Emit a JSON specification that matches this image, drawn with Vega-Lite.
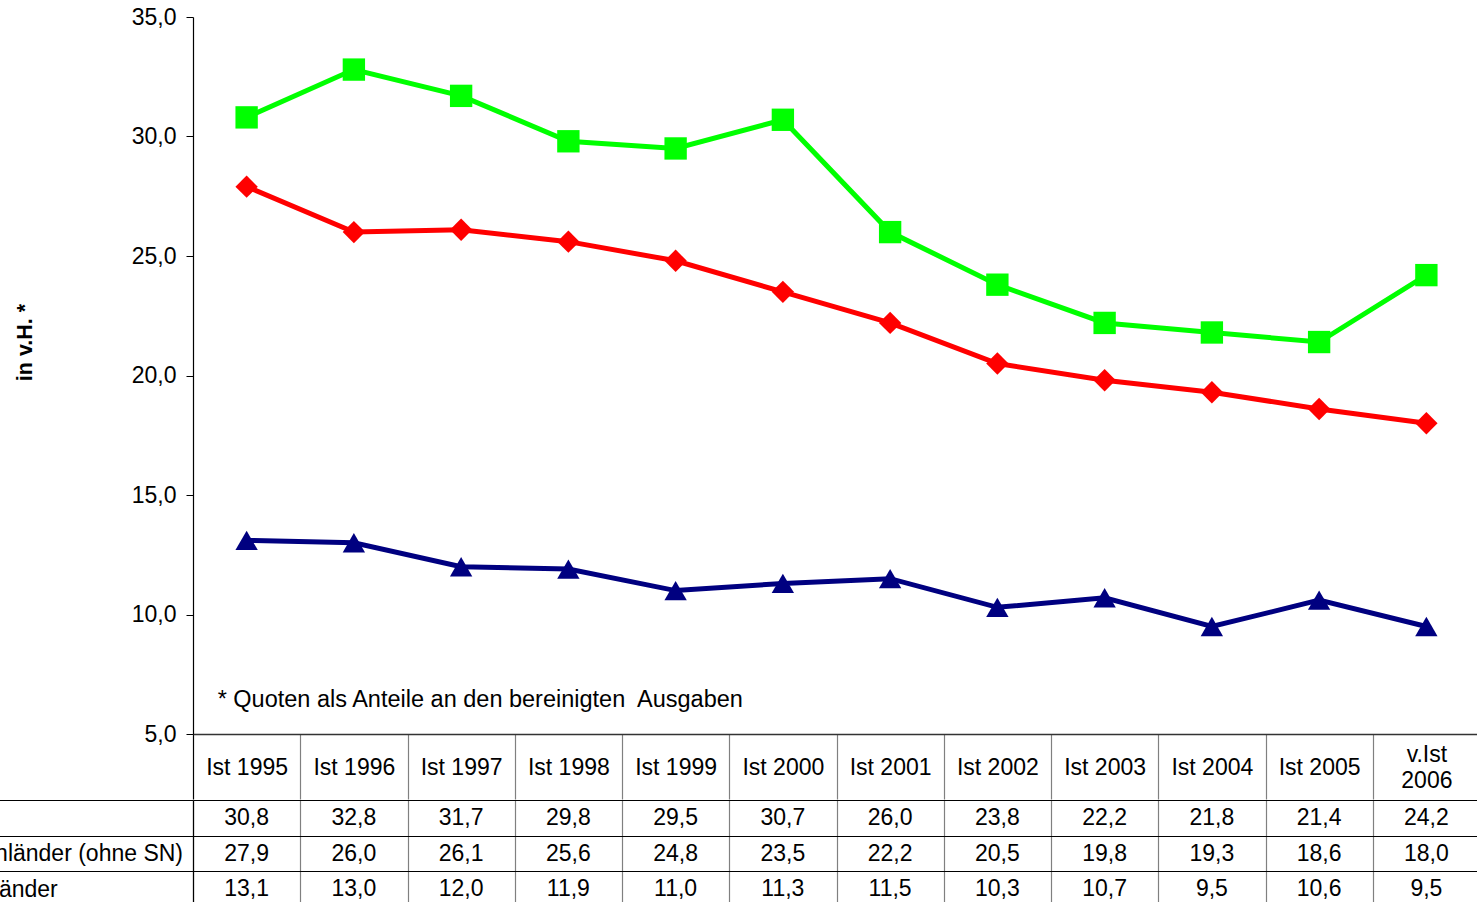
{
  "$schema": "https://vega.github.io/schema/vega-lite/v6.json",
  "background": "white",
  "padding": {"left": -132, "top": 6, "right": -4, "bottom": -4},
  "spacing": -12,
  "config": {
    "view": {"stroke": null},
    "font": "Liberation Sans",
    "locale": {"number": {"decimal": ",", "thousands": ".", "grouping": [3], "currency": ["", " €"]}}
  },
  "datasets": {
    "hinweis": [{"text": "* Quoten als Anteile an den bereinigten\u00a0 Ausgaben"}],
    "quoten": [
      {"jahr": "Ist 1995", "gebiet": "Sachsen", "quote": 30.8},
      {"jahr": "Ist 1996", "gebiet": "Sachsen", "quote": 32.8},
      {"jahr": "Ist 1997", "gebiet": "Sachsen", "quote": 31.7},
      {"jahr": "Ist 1998", "gebiet": "Sachsen", "quote": 29.8},
      {"jahr": "Ist 1999", "gebiet": "Sachsen", "quote": 29.5},
      {"jahr": "Ist 2000", "gebiet": "Sachsen", "quote": 30.7},
      {"jahr": "Ist 2001", "gebiet": "Sachsen", "quote": 26.0},
      {"jahr": "Ist 2002", "gebiet": "Sachsen", "quote": 23.8},
      {"jahr": "Ist 2003", "gebiet": "Sachsen", "quote": 22.2},
      {"jahr": "Ist 2004", "gebiet": "Sachsen", "quote": 21.8},
      {"jahr": "Ist 2005", "gebiet": "Sachsen", "quote": 21.4},
      {"jahr": "v.Ist 2006", "gebiet": "Sachsen", "quote": 24.2},
      {"jahr": "Ist 1995", "gebiet": "neue Flächenländer (ohne SN)", "quote": 27.9},
      {"jahr": "Ist 1996", "gebiet": "neue Flächenländer (ohne SN)", "quote": 26.0},
      {"jahr": "Ist 1997", "gebiet": "neue Flächenländer (ohne SN)", "quote": 26.1},
      {"jahr": "Ist 1998", "gebiet": "neue Flächenländer (ohne SN)", "quote": 25.6},
      {"jahr": "Ist 1999", "gebiet": "neue Flächenländer (ohne SN)", "quote": 24.8},
      {"jahr": "Ist 2000", "gebiet": "neue Flächenländer (ohne SN)", "quote": 23.5},
      {"jahr": "Ist 2001", "gebiet": "neue Flächenländer (ohne SN)", "quote": 22.2},
      {"jahr": "Ist 2002", "gebiet": "neue Flächenländer (ohne SN)", "quote": 20.5},
      {"jahr": "Ist 2003", "gebiet": "neue Flächenländer (ohne SN)", "quote": 19.8},
      {"jahr": "Ist 2004", "gebiet": "neue Flächenländer (ohne SN)", "quote": 19.3},
      {"jahr": "Ist 2005", "gebiet": "neue Flächenländer (ohne SN)", "quote": 18.6},
      {"jahr": "v.Ist 2006", "gebiet": "neue Flächenländer (ohne SN)", "quote": 18.0},
      {"jahr": "Ist 1995", "gebiet": "alte Flächenländer", "quote": 13.1},
      {"jahr": "Ist 1996", "gebiet": "alte Flächenländer", "quote": 13.0},
      {"jahr": "Ist 1997", "gebiet": "alte Flächenländer", "quote": 12.0},
      {"jahr": "Ist 1998", "gebiet": "alte Flächenländer", "quote": 11.9},
      {"jahr": "Ist 1999", "gebiet": "alte Flächenländer", "quote": 11.0},
      {"jahr": "Ist 2000", "gebiet": "alte Flächenländer", "quote": 11.3},
      {"jahr": "Ist 2001", "gebiet": "alte Flächenländer", "quote": 11.5},
      {"jahr": "Ist 2002", "gebiet": "alte Flächenländer", "quote": 10.3},
      {"jahr": "Ist 2003", "gebiet": "alte Flächenländer", "quote": 10.7},
      {"jahr": "Ist 2004", "gebiet": "alte Flächenländer", "quote": 9.5},
      {"jahr": "Ist 2005", "gebiet": "alte Flächenländer", "quote": 10.6},
      {"jahr": "v.Ist 2006", "gebiet": "alte Flächenländer", "quote": 9.5}
    ]
  },
  "vconcat": [
    {
      "width": 1287,
      "height": 717,
      "layer": [
        {
          "data": {"name": "quoten"},
          "mark": {"type": "line", "strokeWidth": 5},
          "encoding": {
            "x": {
              "field": "jahr",
              "type": "ordinal",
              "bandPosition": 0.5,
              "scale": {
                "type": "band",
                "paddingInner": 0,
                "paddingOuter": 0,
                "domain": ["Ist 1995", "Ist 1996", "Ist 1997", "Ist 1998", "Ist 1999", "Ist 2000", "Ist 2001", "Ist 2002", "Ist 2003", "Ist 2004", "Ist 2005", "v.Ist 2006"]
              },
              "axis": {
                "orient": "bottom",
                "title": null,
                "labelAngle": 0,
                "labelFontSize": 23,
                "labelColor": "black",
                "labelBaseline": "middle",
                "labelPadding": {"condition": {"test": "datum.label == 'v.Ist 2006'", "value": -45}, "value": -32},
                "labelLineHeight": 26,
                "labelExpr": "datum.label == 'v.Ist 2006' ? ['v.Ist', '2006'] : datum.label",
                "tickBand": "extent",
                "tickSize": 65,
                "tickWidth": 1.2,
                "tickColor": {"condition": {"test": "datum.extra", "value": "black"}, "value": "#808080"},
                "domainColor": "#333333",
                "domainWidth": 1.5,
                "grid": false
              }
            },
            "y": {
              "field": "quote",
              "type": "quantitative",
              "scale": {"domain": [5, 35], "nice": false, "zero": false},
              "axis": {
                "values": [5, 10, 15, 20, 25, 30, 35],
                "format": ".1f",
                "grid": false,
                "labelFontSize": 23,
                "labelColor": "black",
                "labelPadding": 10,
                "tickSize": 7,
                "tickColor": "black",
                "domainColor": "black",
                "domainWidth": 1.2,
                "title": "in v.H. *",
                "titleFontSize": 21.5,
                "titleFontWeight": "bold",
                "titleColor": "black",
                "titleAngle": -90,
                "titleAlign": "center",
                "titleBaseline": "middle",
                "titleX": -168,
                "titleY": 325
              }
            },
            "color": {
              "field": "gebiet",
              "type": "nominal",
              "scale": {"domain": ["Sachsen", "neue Flächenländer (ohne SN)", "alte Flächenländer"], "range": ["#00FF00", "#FF0000", "#000080"]},
              "legend": null
            }
          }
        },
        {
          "data": {"name": "quoten"},
          "mark": {"type": "point", "filled": true, "opacity": 1, "size": 500},
          "encoding": {
            "x": {"field": "jahr", "type": "ordinal", "bandPosition": 0.5},
            "y": {"field": "quote", "type": "quantitative"},
            "color": {
              "field": "gebiet",
              "type": "nominal",
              "legend": null
            },
            "shape": {
              "field": "gebiet",
              "type": "nominal",
              "scale": {"domain": ["Sachsen", "neue Flächenländer (ohne SN)", "alte Flächenländer"], "range": ["square", "diamond", "triangle-up"]},
              "legend": null
            }
          }
        },
        {
          "data": {"name": "hinweis"},
          "mark": {"type": "text", "align": "left", "baseline": "middle", "fontSize": 23.5, "color": "black", "dx": -29},
          "encoding": {
            "x": {"datum": "Ist 1995", "type": "ordinal", "bandPosition": 0.5},
            "y": {"datum": 6.42, "type": "quantitative"},
            "text": {"field": "text", "type": "nominal"}
          }
        }
      ]
    },
    {
      "width": 1287,
      "height": 107,
      "data": {"name": "quoten"},
      "mark": {"type": "text", "fontSize": 23, "color": "black", "baseline": "middle", "align": "center"},
      "encoding": {
        "x": {
          "field": "jahr",
          "type": "ordinal",
          "bandPosition": 0.5,
          "scale": {
            "type": "band",
            "paddingInner": 0,
            "paddingOuter": 0,
            "domain": ["Ist 1995", "Ist 1996", "Ist 1997", "Ist 1998", "Ist 1999", "Ist 2000", "Ist 2001", "Ist 2002", "Ist 2003", "Ist 2004", "Ist 2005", "v.Ist 2006"]
          },
          "axis": {
            "title": null,
            "labels": false,
            "ticks": false,
            "domain": false,
            "grid": true,
            "tickBand": "extent",
            "gridColor": "#808080",
            "gridWidth": 1.2,
            "gridOpacity": 1
          }
        },
        "y": {
          "field": "gebiet",
          "type": "nominal",
          "scale": {
            "type": "band",
            "paddingInner": 0,
            "paddingOuter": 0,
            "domain": ["Sachsen", "neue Flächenländer (ohne SN)", "alte Flächenländer"]
          },
          "axis": {
            "title": null,
            "grid": true,
            "gridColor": "black",
            "gridWidth": 1.2,
            "gridOpacity": 1,
            "tickBand": "extent",
            "tickSize": 200,
            "tickColor": "black",
            "tickWidth": 1.2,
            "domainColor": "black",
            "domainWidth": 1.2,
            "labelAlign": "left",
            "labelBaseline": "middle",
            "labelPadding": 125,
            "labelLimit": 500,
            "labelFontSize": 23,
            "labelColor": "black"
          }
        },
        "text": {"field": "quote", "type": "quantitative", "format": ".1f"}
      }
    }
  ]
}
